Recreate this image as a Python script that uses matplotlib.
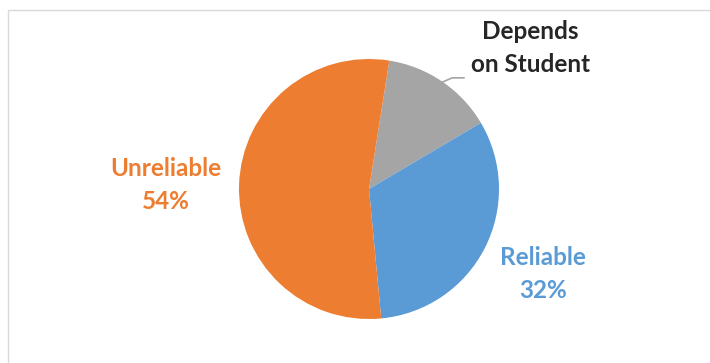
import numpy as np
import matplotlib.pyplot as plt

plt.rcParams['font.family'] = ['Lato', 'DejaVu Sans']

# Data
labels = ["Depends\non Student", "Reliable", "Unreliable"]
shares = [14, 32, 54]
colors = ['#A5A5A5', '#5B9BD5', '#ED7D31']
text_colors = ['#262626', '#5B9BD5', '#ED7D31']
show_pct = [False, True, True]

fig = plt.figure(figsize=(7.10, 3.63), dpi=100)
ax = fig.add_axes([0, 0, 1, 1])

wedges, _ = ax.pie(shares, colors=colors, startangle=81, counterclock=False,
                   wedgeprops=dict(linewidth=0))

# pixels -> data, radius = 130 px, centre at (369, 189) from top-left
ax.set_xlim(-369 / 130, (710 - 369) / 130)
ax.set_ylim(-174 / 130, 189 / 130)
ax.set_aspect('auto')
ax.axis('off')

# label positions (data units)
label_pos = [(1.24, 1.085), (1.34, -0.655), (-1.56, 0.03)]
for i in range(len(labels)):
    txt = labels[i]
    if show_pct[i]:
        txt = txt + "\n%d%%" % shares[i]
    ax.text(label_pos[i][0], label_pos[i][1], txt, ha='center', va='center',
            fontsize=17.5, fontweight='bold', color=text_colors[i],
            linespacing=1.5)

# leader line for the small slice
w = wedges[0]
mid = np.deg2rad((w.theta1 + w.theta2) / 2)
x0, y0 = 0.99 * np.cos(mid), 0.99 * np.sin(mid)
ax.plot([x0, 0.64, 0.73], [y0, 0.855, 0.855], color='#A5A5A5', lw=1.2)

# outer chart border
fig.patches.append(plt.Rectangle((8 / 710, -0.05), 1.2, 1 - 10 / 363 + 0.05,
                                 transform=fig.transFigure, fill=False,
                                 edgecolor='#D9D9D9', lw=1.0))

fig.savefig('out.png', dpi=100, facecolor='white')
